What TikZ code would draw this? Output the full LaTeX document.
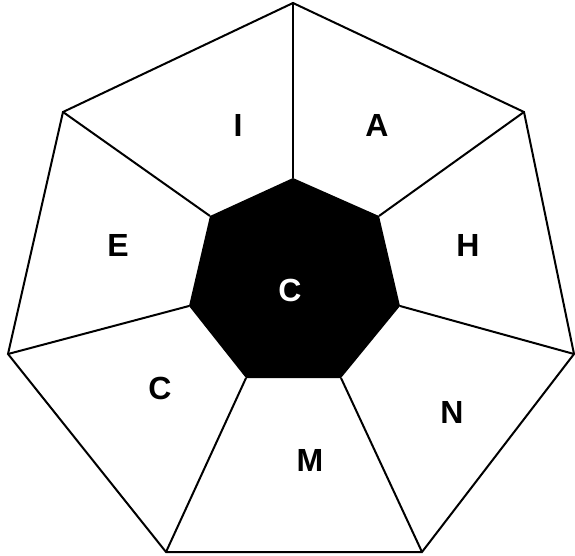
\documentclass[tikz,border=0pt]{standalone}
\usepackage{fontspec}
\setmainfont{Liberation Sans}
\begin{document}
\begin{tikzpicture}[x=1pt,y=-1pt,line width=2pt,line join=miter,
  lbl/.style={font=\bfseries\fontsize{32}{32}\selectfont}]
 \useasboundingbox (0,0) rectangle (575,556);
 % outer and inner corners
 \foreach \i/\x/\y in {0/293/3,1/524/112,2/574/354,3/422/552,4/166/552,5/8/354,6/63/112}
   \coordinate (o\i) at (\x,\y);
 \foreach \i/\x/\y in {0/293/178,1/379/216,2/400/306,3/341/378,4/246/378,5/189/306,6/210/216}
   \coordinate (n\i) at (\x,\y);
 \draw (o0)--(o1)--(o2)--(o3)--(o4)--(o5)--(o6)--cycle;
 \foreach \i in {0,...,6}
   \draw (o\i)--(n\i);
 \fill[black] (n0)--(n1)--(n2)--(n3)--(n4)--(n5)--(n6)--cycle;
 \node[lbl,text=white] (mid) at (290,290) {C};
 \node[lbl] (li) at (238,125) {I};
 \node[lbl] (la) at (377,125) {A};
 \node[lbl] (lh) at (468,245) {H};
 \node[lbl] (ln) at (452,412) {N};
 \node[lbl] (lm) at (310,460) {M};
 \node[lbl] (lc) at (160,388) {C};
 \node[lbl] (le) at (118,245) {E};
\end{tikzpicture}
\end{document}
